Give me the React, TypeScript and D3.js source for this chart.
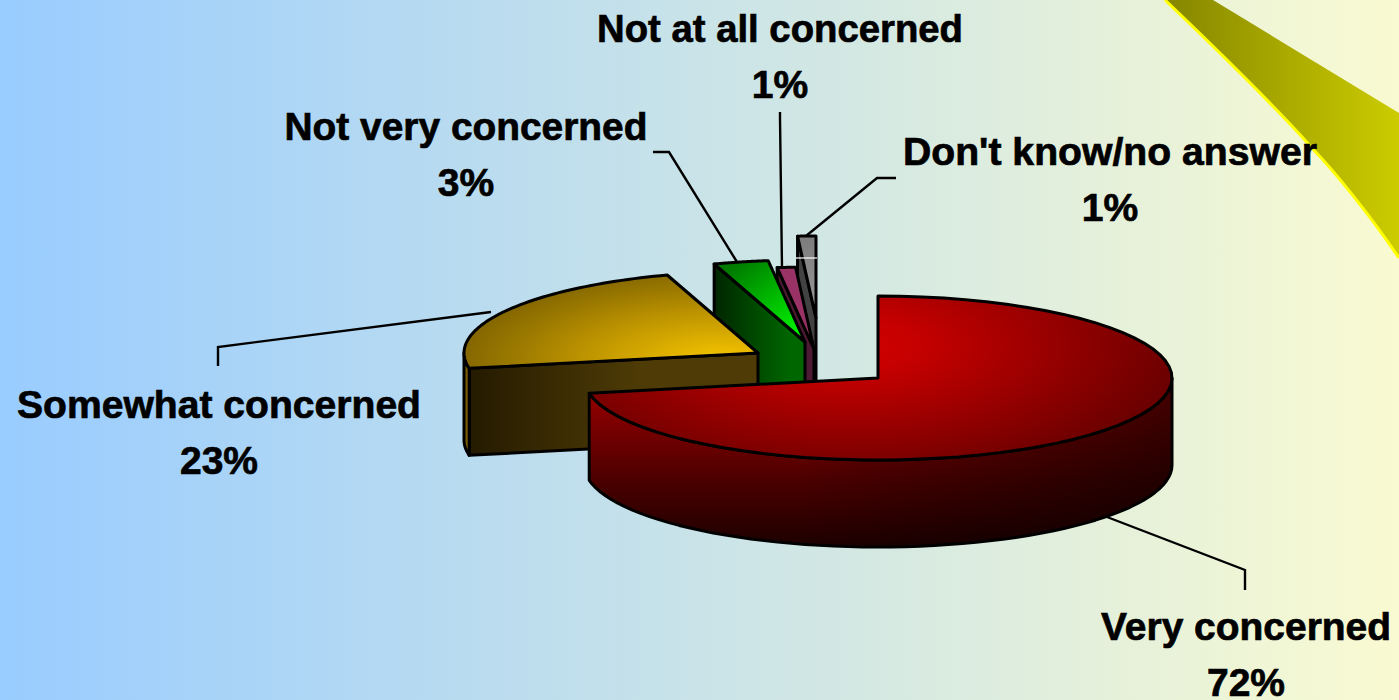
import React from "react";
import * as d3 from "d3";

const categories = ["Very concerned", "Somewhat concerned", "Not very concerned", "Not at all concerned", "Don't know/no answer"];
const values = [72, 23, 3, 1, 1];

// layout, by slice index
const apexes: [number, number][] = [[878, 378], [758, 353], [805, 342], [814, 349], [816, 318]];
const labelPos: [number, number][] = [[1246, 640], [219, 418], [466, 140], [780, 42], [1110, 165]];
const labelWidths = [290, 404, 363, 366, 414];
const leaders: [number, number][][] = [
  [[1107, 517], [1245, 570], [1245, 590]],
  [[218, 366], [218, 347], [491, 312]],
  [[653, 152], [669, 152], [737, 262]],
  [[780, 112], [780, 118], [782, 268]],
  [[896, 178], [877, 178], [806, 236]],
];
const topFills = ["url(#redTop)", "url(#goldTop)", "url(#greenTop)", "#993366", "url(#grayTop)"];
const sideFills = ["url(#redSide)", "url(#goldSide)", "url(#greenSide)", "#4d1a33", "#424242"];

const W = 1399, H = 700, RX = 294, RY = 82, DEPTH = 87;
const FONT = "'Liberation Sans', Arial, sans-serif";
const TAU = Math.PI * 2;

const pie = d3.pie<number>().sort(null).startAngle(0).endAngle(TAU);
const arcs = pie(values);
const line = d3.line();

const pt = (i: number, a: number, dy = 0): [number, number] => [
  apexes[i][0] + RX * Math.sin(a),
  apexes[i][1] - RY * Math.cos(a) + dy,
];
const samples = (a0: number, a1: number) => d3.range(0, 61).map((k) => a0 + ((a1 - a0) * k) / 60);

const topPath = (i: number) => {
  const { startAngle, endAngle } = arcs[i];
  return line([apexes[i], ...samples(startAngle, endAngle).map((a) => pt(i, a))]) + "Z";
};
const rimPath = (i: number, a0: number, a1: number) => {
  const s = samples(a0, a1);
  return line([...s.map((a) => pt(i, a)), ...s.slice().reverse().map((a) => pt(i, a, DEPTH))]) + "Z";
};
const wallPath = (i: number, a: number) => {
  const o = pt(i, a);
  const ax = apexes[i];
  return line([ax, o, [o[0], o[1] + DEPTH], [ax[0], ax[1] + DEPTH]]) + "Z";
};

const Slice = ({ i }: { i: number }) => {
  const { startAngle, endAngle } = arcs[i];
  const hw = Math.PI / 2, lw = (3 * Math.PI) / 2;
  const s = { stroke: "#000", strokeWidth: 3, strokeLinejoin: "round" as const };
  return (
    <g>
      {startAngle >= lw - 0.5 && i > 0 ? <path d={wallPath(i, startAngle)} fill={sideFills[i]} {...s} /> : null}
      {endAngle > hw && startAngle < lw ? (
        <path
          d={rimPath(i, Math.max(startAngle, hw), Math.min(endAngle, lw))}
          fill={i === 0 ? "url(#redRim)" : i === 1 ? "#7a5c00" : sideFills[i]}
          {...s}
        />
      ) : null}
      <path d={topPath(i)} fill={topFills[i]} {...s} />
    </g>
  );
};

export default function App() {
  const order = [4, 3, 2, 1, 0];
  return (
    <svg width={W} height={H} viewBox={`0 0 ${W} ${H}`} style={{ position: "absolute", left: 0, top: 0, display: "block" }}>
      <defs>
        <linearGradient id="bg" x1="0" x2="1" y1="0" y2="0">
          <stop offset="0" stopColor="#99ccff" />
          <stop offset="1" stopColor="#f9fad1" />
        </linearGradient>
        <linearGradient id="corner" gradientUnits="userSpaceOnUse" x1="1165" x2="1399" y1="0" y2="0">
          <stop offset="0" stopColor="#858500" />
          <stop offset="1" stopColor="#cccc00" />
        </linearGradient>
        <radialGradient id="redTop" gradientUnits="userSpaceOnUse" cx="0" cy="0" r="1"
          gradientTransform="translate(850 345) scale(330 135)">
          <stop offset="0" stopColor="#cf0000" />
          <stop offset="0.2" stopColor="#c60000" />
          <stop offset="1" stopColor="#6c0000" />
        </radialGradient>
        <linearGradient id="redRim" gradientUnits="userSpaceOnUse" x1="0" x2="0" y1="400" y2="548">
          <stop offset="0" stopColor="#900000" />
          <stop offset="0.55" stopColor="#4a0000" />
          <stop offset="1" stopColor="#1c0000" />
        </linearGradient>
        <linearGradient id="redShade" gradientUnits="userSpaceOnUse" x1="800" x2="1172" y1="0" y2="0">
          <stop offset="0" stopColor="#000" stopOpacity="0" />
          <stop offset="1" stopColor="#000" stopOpacity="0.55" />
        </linearGradient>
        <linearGradient id="redSide" x1="0" x2="0" y1="0" y2="1">
          <stop offset="0" stopColor="#700000" />
          <stop offset="1" stopColor="#300000" />
        </linearGradient>
        <radialGradient id="goldTop" gradientUnits="userSpaceOnUse" cx="0" cy="0" r="1"
          gradientTransform="translate(725 362) scale(270 95)">
          <stop offset="0" stopColor="#f8c800" />
          <stop offset="0.5" stopColor="#c09600" />
          <stop offset="1" stopColor="#806400" />
        </radialGradient>
        <linearGradient id="goldSide" gradientUnits="userSpaceOnUse" x1="467" x2="640" y1="0" y2="0">
          <stop offset="0" stopColor="#241a00" />
          <stop offset="1" stopColor="#4e3b06" />
        </linearGradient>
        <radialGradient id="greenTop" gradientUnits="userSpaceOnUse" cx="805" cy="342" r="105">
          <stop offset="0" stopColor="#00ff00" />
          <stop offset="1" stopColor="#007a00" />
        </radialGradient>
        <linearGradient id="greenSide" gradientUnits="userSpaceOnUse" x1="714" x2="790" y1="0" y2="0">
          <stop offset="0" stopColor="#002500" />
          <stop offset="0.6" stopColor="#004d00" />
          <stop offset="1" stopColor="#006600" />
        </linearGradient>
        <linearGradient id="grayTop" gradientUnits="userSpaceOnUse" x1="0" x2="0" y1="236" y2="318">
          <stop offset="0" stopColor="#7c7c7c" />
          <stop offset="1" stopColor="#9c9c9c" />
        </linearGradient>
      </defs>

      <rect width={W} height={H} fill="url(#bg)" />

      <path d="M1165,0L1213,0L1399,113L1399,258C1370,215 1335,172 1312,148C1280,112 1230,62 1165,0Z" fill="url(#corner)" />
      <path d="M1165,0C1230,62 1280,112 1312,148C1335,172 1370,215 1399,258" fill="none" stroke="#ffff00" strokeWidth="3" />

      {order.map((i) => (
        <Slice key={i} i={i} />
      ))}
      <path d={rimPath(0, Math.PI / 2, arcs[0].endAngle)} fill="url(#redShade)" stroke="none" />
      <line x1="796" x2="817" y1="258" y2="258" stroke="#fff" strokeWidth="1.2" />

      {leaders.map((l, i) => (
        <path key={i} d={line(l) as string} fill="none" stroke="#000" strokeWidth="2.4" />
      ))}

      {categories.map((c, i) => (
        <g key={c} fontFamily={FONT} fontWeight="700" fontSize="39" fill="#000" stroke="#000" strokeWidth="0.7" textAnchor="middle">
          <text x={labelPos[i][0]} y={labelPos[i][1]} textLength={labelWidths[i]} lengthAdjust="spacingAndGlyphs">{c}</text>
          <text x={labelPos[i][0]} y={labelPos[i][1] + 56}>{values[i]}%</text>
        </g>
      ))}
    </svg>
  );
}
